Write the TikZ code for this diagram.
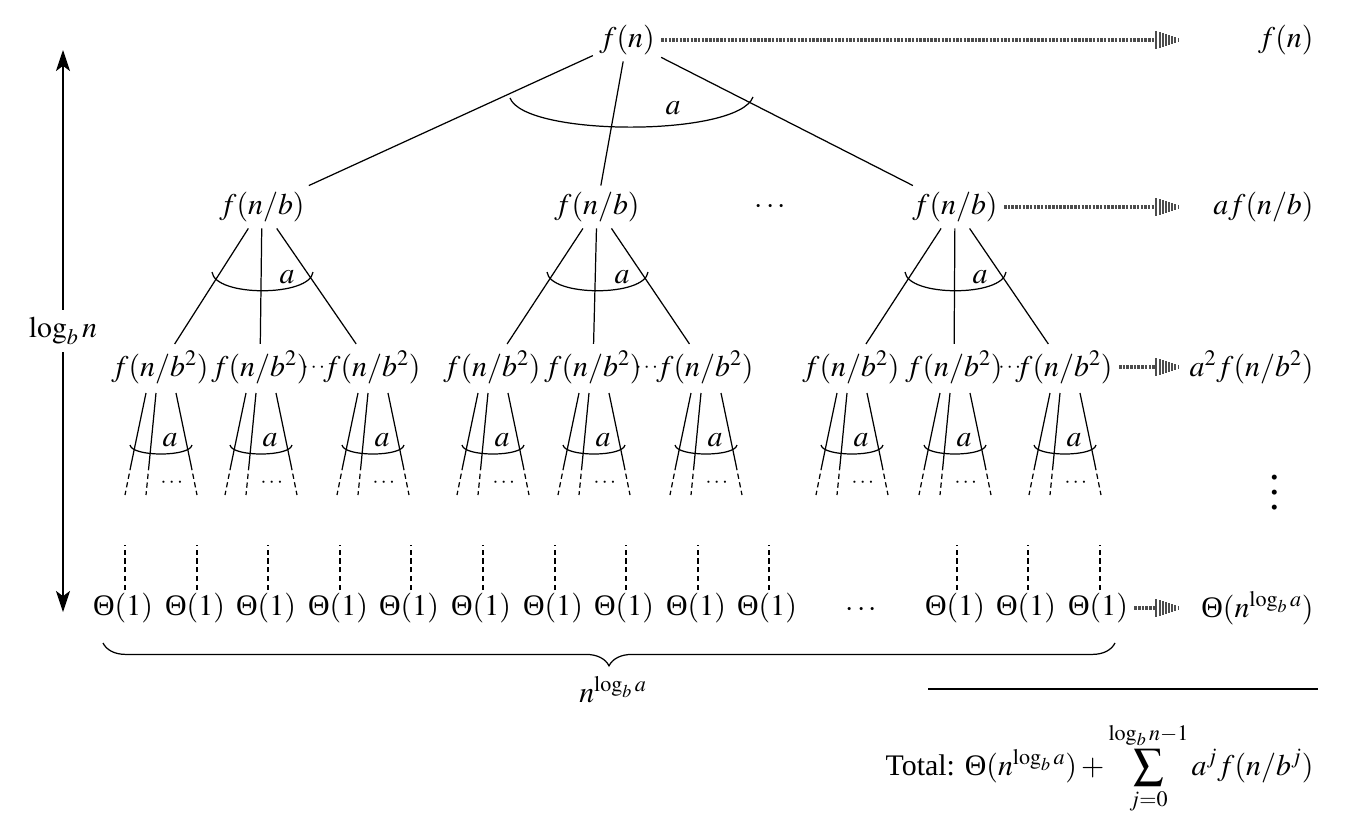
\documentclass[tikz,border=0pt]{standalone}
\usepackage{amsmath}
\usepackage{mathptmx}
\usepackage{fontspec}
\setmainfont{Liberation Serif}
\usetikzlibrary{positioning, arrows.meta, calc, decorations.pathreplacing, decorations.markings}

\newcommand{\Thet}{\text{Θ}}

\tikzset{
  term/.style={font=\fontsize{17}{21}\selectfont, inner sep=3.5pt},
  tiny/.style={font=\fontsize{12}{14}\selectfont, inner sep=1pt},
  tree/.style={line width=0.7pt},
  stub/.style={line width=0.7pt, dash pattern=on 3pt off 2pt},
  flow/.style={draw=black!70, line width=2.6pt, dash pattern=on 1.4pt off 0.7pt, shorten >=14pt,
    postaction={decorate, decoration={markings, mark=at position 1 with {
      \foreach \k in {0,...,7} {\fill[black!70] ({-14pt+\k*1.8pt},{-5pt+\k*0.55pt}) rectangle ({-12.9pt+\k*1.8pt},{5pt-\k*0.55pt});}
    }}}},
}

\begin{document}
\begin{tikzpicture}[x=0.02cm, y=-0.02cm, every node/.style={term}]
\useasboundingbox (0,0) rectangle (1348,835);

% top of the tree
\node (root) at (627,40) {$f(n)$};
\node (m1) at (262,207) {$f(n/b)$};
\node (m2) at (597,207) {$f(n/b)$};
\node (m3) at (955,207) {$f(n/b)$};
\node (md) at (772,207) {$\cdots$};

\draw[tree] (root) -- (m1) (root) -- (m2) (root) -- (m3);
\draw[tree] ($(root)+(-117,58)$) .. controls ($(root)+(-102,97)$) and ($(root)+(111,97)$) .. ($(root)+(126,57)$);
\node (aroot) at ($(root)+(46,68)$) {$a$};

% second level
\foreach \g/\xa/\xb/\xd/\xc in {1/160/260/315/372, 2/492/593/648/705, 3/851/954/1011/1064} {
  \node (l\g1) at (\xa,367) {$f(n/b^2)$};
  \node (l\g2) at (\xb,367) {$f(n/b^2)$};
  \node[tiny] (ld\g) at (\xd,368) {$\cdots$};
  \node (l\g3) at (\xc,367) {$f(n/b^2)$};
  \draw[tree] (m\g) -- (l\g1) (m\g) -- (l\g2) (m\g) -- (l\g3);
  \draw[tree] ($(m\g)+(-50,65)$) .. controls ($(m\g)+(-47,90)$) and ($(m\g)+(48,90)$) .. ($(m\g)+(51,65)$);
  \node (am\g) at ($(m\g)+(25,70)$) {$a$};
}

% third level, cut off
\foreach \g in {1,2,3} {
  \foreach \k in {1,2,3} {
    \foreach \ox/\dx/\ex [count=\i] in {-14/-15/-6, -4/-7/-3, 16/15/6} {
      \draw[tree] ($(l\g\k)+(\ox,26)$) -- ++(\dx,72) coordinate (c\g\k\i);
      \draw[stub] (c\g\k\i) -- ++(\ex,30);
    }
    \draw[tree] ($(l\g\k)+(-30,78)$) .. controls ($(l\g\k)+(-28,90)$) and ($(l\g\k)+(30,90)$) .. ($(l\g\k)+(32,78)$);
    \node (al\g\k) at ($(l\g\k)+(10,73)$) {$a$};
    \node[tiny] (dl\g\k) at ($(l\g\k)+(13,116)$) {$\cdots$};
  }
}

% leaves
\foreach \x [count=\i] in {123,195,266,338,409,481,553,624,696,767,955,1026,1098} {
  \node (t\i) at (\x,608) {$\Thet(1)$};
  \draw[stub] ($(t\i)+(2,-18)$) -- ++(0,-45);
}
\node (td) at (863,610) {$\cdots$};

\coordinate (bl) at (103,643);
\coordinate (br) at (1115,643);
\draw[tree, decorate, decoration={brace, mirror, amplitude=13pt}] (bl) -- (br);
\node (nlog) at (613,690) {$n^{\log_b a}$};

% height of the tree
\coordinate (htop) at (63,50);
\coordinate (hbot) at (63,612);
\draw[tree, {Stealth[length=12pt, width=8pt, inset=3pt]}-{Stealth[length=12pt, width=8pt, inset=3pt]}] (htop) -- (hbot)
  node[midway, fill=white, inner sep=4pt] (height) {$\log_b n$};

% cost of each level
\node[anchor=east] (s1) at (1320,40) {$f(n)$};
\node[anchor=east] (s2) at (1320,207) {$af(n/b)$};
\node[anchor=east] (s3) at (1320,367) {$a^2 f(n/b^2)$};
\node[font=\fontsize{24}{8.5}\selectfont, align=center, inner sep=0pt] (s4) at (1275,493) {.\\.\\.};
\node[anchor=east] (s5) at (1320,608) {$\Thet(n^{\log_b a})$};

\coordinate (e1) at (1180,40);
\coordinate (e2) at (1180,207);
\coordinate (e3) at (1180,367);
\coordinate (e4) at (1180,608);
\draw[flow] (root) -- (e1);
\draw[flow] (m3) -- (e2);
\draw[flow] (l33) -- (e3);
\draw[flow] (t13) -- (e4);

\draw[tree] (928,689) -- (1318,689);
\node[anchor=east] (total) at (1320,768) {Total: $\Thet(n^{\log_b a}) + \displaystyle\sum_{j=0}^{\log_b n-1} a^j f(n/b^j)$};
\end{tikzpicture}
\end{document}
